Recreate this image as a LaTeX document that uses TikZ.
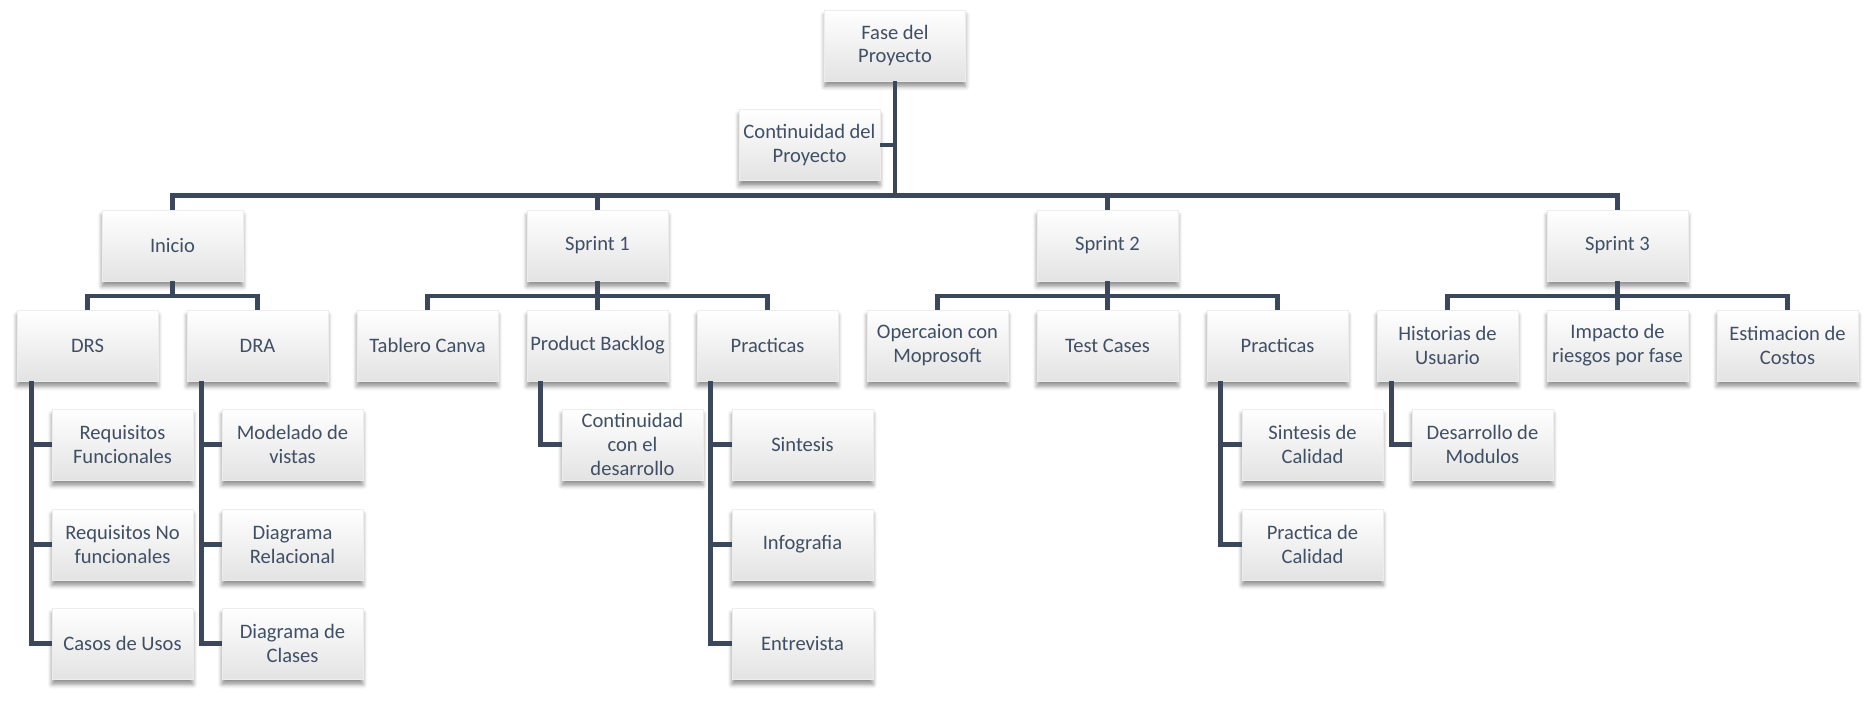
\documentclass[tikz,border=0pt]{standalone}
\usepackage{fontspec}
\setmainfont{Carlito}
\usetikzlibrary{shadows.blur}
\definecolor{wbsline}{RGB}{59,72,91}
\definecolor{wbstext}{RGB}{64,79,100}

\begin{document}
\begin{tikzpicture}
                \tikzset{x=0.02cm, y=-0.02cm}
                \tikzstyle{task}=[rectangle, draw=black!7, line width=0.4pt, minimum width=2.82cm, minimum height=1.42cm, inner xsep=1pt, inner ysep=0pt, align=center, text=wbstext, font=\fontsize{11.7pt}{13.6pt}\selectfont, top color=white, bottom color=black!11, blur shadow={shadow xshift=0pt, shadow yshift=-3pt, shadow blur radius=2.5pt, shadow opacity=45}]
                \tikzstyle{link}=[draw=wbsline, line width=2.8pt]

                \useasboundingbox (0,0) rectangle (1873,701);

                % fase y continuidad
                \draw (895.0, 45.5)   node[task] (fase)   {Fase del\\Proyecto};
                \draw (809.5, 145.0)  node[task] (cont)   {Continuidad del\\Proyecto};

                % nivel 1
                \draw (172.5, 245.5)  node[task] (inicio) {Inicio};
                \draw (597.5, 245.5)  node[task] (sp1)    {Sprint 1};
                \draw (1107.5, 245.5) node[task] (sp2)    {Sprint 2};
                \draw (1617.5, 245.5) node[task] (sp3)    {Sprint 3};

                % nivel 2
                \draw (87.5, 345.5)   node[task] (drs)    {DRS};
                \draw (257.5, 345.5)  node[task] (dra)    {DRA};
                \draw (427.5, 345.5)  node[task] (tab)    {Tablero Canva};
                \draw (597.5, 345.5)  node[task] (pb)     {Product Backlog};
                \draw (767.5, 345.5)  node[task] (pra)    {Practicas};
                \draw (937.5, 345.5)  node[task] (ope)    {Opercaion con\\Moprosoft};
                \draw (1107.5, 345.5) node[task] (tc)     {Test Cases};
                \draw (1277.5, 345.5) node[task] (prb)    {Practicas};
                \draw (1447.5, 345.5) node[task] (his)    {Historias de\\Usuario};
                \draw (1617.5, 345.5) node[task] (imp)    {Impacto de\\riesgos por fase};
                \draw (1787.5, 345.5) node[task] (est)    {Estimacion de\\Costos};

                % hojas
                \draw (122.5, 444.5)  node[task] (rf)     {Requisitos\\Funcionales};
                \draw (122.5, 544.5)  node[task] (rnf)    {Requisitos No\\funcionales};
                \draw (122.5, 643.5)  node[task] (cas)    {Casos de Usos};
                \draw (292.5, 444.5)  node[task] (mod)    {Modelado de\\vistas};
                \draw (292.5, 544.5)  node[task] (rel)    {Diagrama\\Relacional};
                \draw (292.5, 643.5)  node[task] (cla)    {Diagrama de\\Clases};
                \draw (632.5, 444.5)  node[task] (cde)    {Continuidad\\con el\\desarrollo};
                \draw (802.5, 444.5)  node[task] (sin)    {Sintesis};
                \draw (802.5, 544.5)  node[task] (inf)    {Infografia};
                \draw (802.5, 643.5)  node[task] (ent)    {Entrevista};
                \draw (1312.5, 444.5) node[task] (sdc)    {Sintesis de\\Calidad};
                \draw (1312.5, 544.5) node[task] (pdc)    {Practica de\\Calidad};
                \draw (1482.5, 444.5) node[task] (dmo)    {Desarrollo de\\Modulos};

                % barras
                \coordinate (bar)  at (895.0, 195.5);
                \coordinate (ibar) at (172.5, 296.0);
                \coordinate (bar1) at (597.5, 296.0);
                \coordinate (bar2) at (1107.5, 296.0);
                \coordinate (bar3) at (1617.5, 296.0);

                \draw [link]        (fase.south) -- (bar);
                \draw [link]        (cont.east) -- (cont.east -| fase.south);
                \draw [link]        (inicio.north) |- (bar) -| (sp3.north);
                \draw [link]        (sp1.north) -- (sp1 |- bar);
                \draw [link]        (sp2.north) -- (sp2 |- bar);

                \draw [link]        (inicio.south) -- (ibar);
                \draw [link]        (drs.north) |- (ibar) -| (dra.north);
                \draw [link]        (sp1.south) -- (pb.north);
                \draw [link]        (tab.north) |- (bar1) -| (pra.north);
                \draw [link]        (sp2.south) -- (tc.north);
                \draw [link]        (ope.north) |- (bar2) -| (prb.north);
                \draw [link]        (sp3.south) -- (imp.north);
                \draw [link]        (his.north) |- (bar3) -| (est.north);

                % ramas laterales
                \coordinate (drsl) at ([xshift=0.3cm]drs.south west);
                \coordinate (dral) at ([xshift=0.3cm]dra.south west);
                \coordinate (pbl)  at ([xshift=0.27cm]pb.south west);
                \coordinate (pral) at ([xshift=0.28cm]pra.south west);
                \coordinate (prbl) at ([xshift=0.28cm]prb.south west);
                \coordinate (hisl) at ([xshift=0.3cm]his.south west);

                \draw [link]        (drsl) |- (cas.west);
                \draw [link]        (drsl |- rf.west) -- (rf.west);
                \draw [link]        (drsl |- rnf.west) -- (rnf.west);
                \draw [link]        (dral) |- (cla.west);
                \draw [link]        (dral |- mod.west) -- (mod.west);
                \draw [link]        (dral |- rel.west) -- (rel.west);
                \draw [link]        (pbl) |- (cde.west);
                \draw [link]        (pral) |- (ent.west);
                \draw [link]        (pral |- sin.west) -- (sin.west);
                \draw [link]        (pral |- inf.west) -- (inf.west);
                \draw [link]        (prbl) |- (pdc.west);
                \draw [link]        (prbl |- sdc.west) -- (sdc.west);
                \draw [link]        (hisl) |- (dmo.west);
\end{tikzpicture}
\end{document}
